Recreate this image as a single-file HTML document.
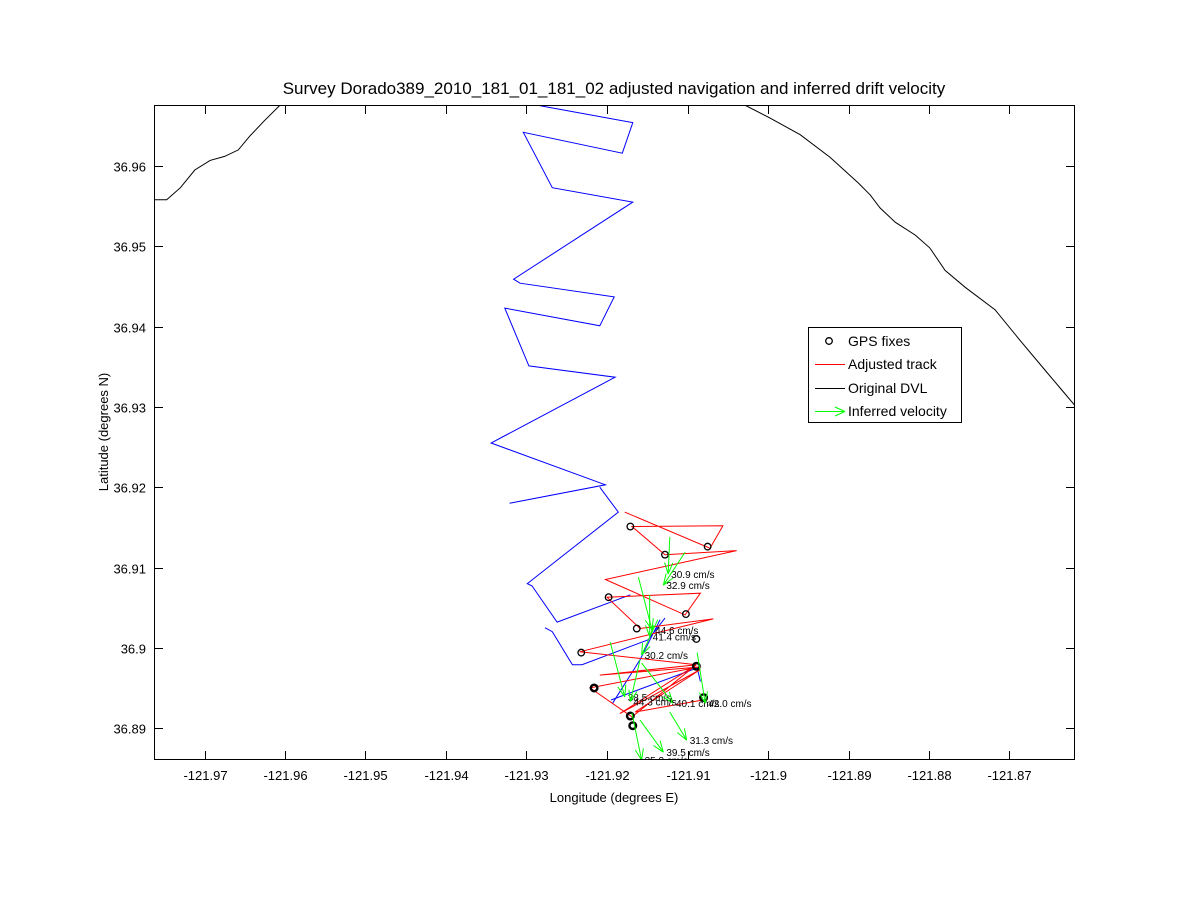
<!DOCTYPE html>
<html><head><meta charset="utf-8"><style>
body{margin:0;background:#fff;}
svg text{font-family:"Liberation Sans",sans-serif;}
</style></head><body>
<svg id="c" width="1188" height="900" xmlns="http://www.w3.org/2000/svg">
<defs><clipPath id="pc"><rect x="154" y="105" width="921" height="655"/></clipPath></defs>
<rect width="1188" height="900" fill="#fff"/>
<g id="plot" clip-path="url(#pc)"></g>
<g id="axes"></g>
</svg>
<script>
const xTicks=[-121.97,-121.96,-121.95,-121.94,-121.93,-121.92,-121.91,-121.9,-121.89,-121.88,-121.87];
const yTicks=[36.89,36.9,36.91,36.92,36.93,36.94,36.95,36.96];
const coastWLon=[-121.9763,-121.9747,-121.9730,-121.9712,-121.9693,-121.9675,-121.9658,-121.9644,-121.9625,-121.9606];
const coastWLat=[36.9558,36.9558,36.9573,36.9595,36.9607,36.9612,36.9620,36.9637,36.9657,36.9676];
const coastELon=[-121.9029,-121.8998,-121.8960,-121.8923,-121.8888,-121.8873,-121.8861,-121.8842,-121.8817,-121.8799,-121.8780,-121.8755,-121.8718,-121.8687,-121.8656,-121.8635,-121.8619];
const coastELat=[36.9676,36.9660,36.9639,36.9611,36.9579,36.9564,36.9548,36.9530,36.9514,36.9498,36.9470,36.9449,36.9421,36.9383,36.9346,36.9321,36.9302];
const dvlALon=[-121.9283,-121.9168,-121.9181,-121.9304,-121.9268,-121.9168,-121.9316,-121.9308,-121.9191,-121.9209,-121.9327,-121.9297,-121.9190,-121.9344,-121.9202,-121.9321];
const dvlALat=[36.9675,36.9654,36.9616,36.9642,36.9573,36.9555,36.9459,36.9454,36.9437,36.9401,36.9423,36.9351,36.9337,36.9255,36.9203,36.9180];
const dvlBLon=[-121.9209,-121.9186,-121.9299,-121.9293,-121.9262,-121.9171];
const dvlBLat=[36.9200,36.9169,36.9080,36.9077,36.9032,36.9066];
const dvlCLon=[-121.9277,-121.9268,-121.9243,-121.9231,-121.9149,-121.9128];
const dvlCLat=[36.9025,36.9020,36.8979,36.8979,36.9010,36.9037];
const dvlDLon=[-121.9193,-121.9159,-121.9134];
const dvlDLat=[36.8931,36.8985,36.9035];
const dvlELon=[-121.9195,-121.9088,-121.9084];
const dvlELat=[36.8935,36.8975,36.8958];
const adjLon=[-121.9178,-121.9072,-121.9056,-121.9169,-121.9128,-121.9039,-121.9202,-121.9103,-121.9084,-121.9200,-121.9159,-121.9068,-121.9234,-121.9089,-121.9209,-121.9087,-121.9221,-121.9169,-121.9089,-121.9184,-121.9084,-121.9165,-121.9081];
const adjLat=[36.9169,36.9124,36.9152,36.9151,36.9116,36.9121,36.9085,36.9041,36.9068,36.9063,36.9024,36.9036,36.8995,36.8979,36.8966,36.8976,36.8950,36.8914,36.8979,36.8918,36.8973,36.8920,36.8935];
const gpsLon=[-121.9171,-121.9128,-121.9075,-121.9198,-121.9102,-121.9163,-121.9089,-121.9232,-121.9089,-121.9216,-121.9080,-121.9171,-121.9168];
const gpsLat=[36.9151,36.9116,36.9126,36.9063,36.9042,36.9024,36.9011,36.8994,36.8977,36.8950,36.8938,36.8915,36.8903];
const gpsBold=[0,0,0,0,0,0,0,0,1,1,1,1,1];
const velLon0=[-121.9122,-121.9103,-121.9161,-121.9147,-121.9137,-121.9196,-121.9157,-121.9159,-121.9088,-121.9122,-121.9159,-121.9169];
const velLat0=[36.9138,36.9119,36.9088,36.9066,36.9035,36.9007,36.8981,36.8985,36.8994,36.8920,36.8910,36.8919];
const velLon1=[-121.9124,-121.9130,-121.9144,-121.9147,-121.9157,-121.9178,-121.9118,-121.9171,-121.9078,-121.9101,-121.9130,-121.9157];
const velLat1=[36.9092,36.9078,36.9022,36.9014,36.8991,36.8939,36.8931,36.8933,36.8931,36.8885,36.8870,36.8860];
const velSpeed=[30.9,32.9,44.6,41.4,30.2,38.5,40.1,44.3,42.0,31.3,39.5,35.3];

const NS="http://www.w3.org/2000/svg";
const X=v=>607+(v+121.92)*8050;
const Y=v=>166-(v-36.96)*8030;
const plot=document.getElementById('plot'), axes=document.getElementById('axes');
function mk(t,a,p){const e=document.createElementNS(NS,t);for(const k in a)e.setAttribute(k,a[k]);p.appendChild(e);return e;}
function line(lons,lats,col,name){
  const e=mk('polyline',{points:lons.map((v,i)=>X(v).toFixed(1)+','+Y(lats[i]).toFixed(1)).join(' '),fill:'none',stroke:col,'stroke-width':1},plot);
  
  
}
line(coastWLon,coastWLat,'#000','coastline-west');
line(coastELon,coastELat,'#000','coastline-east');
[[dvlALon,dvlALat],[dvlBLon,dvlBLat],[dvlCLon,dvlCLat],[dvlDLon,dvlDLat],[dvlELon,dvlELat]].forEach((d,i)=>line(d[0],d[1],'#00f','dvl-track-'+i));
line(adjLon,adjLat,'#f00','adjusted-track');
gpsLon.forEach((v,i)=>{
  const c=mk('circle',{cx:X(v),cy:Y(gpsLat[i]),r:3.3,fill:'none',stroke:'#000','stroke-width':gpsBold[i]?2.4:1.3},plot);
  
  
});
velSpeed.forEach((s,i)=>{
  const x0=X(velLon0[i]),y0=Y(velLat0[i]),x1=X(velLon1[i]),y1=Y(velLat1[i]);
  const g=mk('g',{},plot);
  
  
  mk('line',{x1:x0,y1:y0,x2:x1,y2:y1,stroke:'#0f0','stroke-width':1},g);
  const a=Math.atan2(y1-y0,x1-x0),L=12;
  [0.35,-0.35].forEach(d=>mk('line',{x1:x1,y1:y1,x2:x1-L*Math.cos(a+d),y2:y1-L*Math.sin(a+d),stroke:'#0f0','stroke-width':1},g));
  const t=mk('text',{x:x1+3,y:y1+4,'font-size':10,fill:'#000'},plot);
  t.textContent=s.toFixed(1)+' cm/s';
  
  
});
const box=mk('rect',{x:154.5,y:105.5,width:920,height:654,fill:'none',stroke:'#000','stroke-width':1},axes);


xTicks.forEach(v=>{
  const x=Math.round(X(v))+0.5;
  mk('line',{x1:x,y1:760,x2:x,y2:751,stroke:'#000'},axes);
  mk('line',{x1:x,y1:105,x2:x,y2:114,stroke:'#000'},axes);
  const t=mk('text',{x:x,y:780,'font-size':13,'text-anchor':'middle'},axes);
  t.textContent=String(v);
  
  
});
yTicks.forEach(v=>{
  const y=Math.round(Y(v))+0.5;
  mk('line',{x1:154,y1:y,x2:163,y2:y,stroke:'#000'},axes);
  mk('line',{x1:1075,y1:y,x2:1066,y2:y,stroke:'#000'},axes);
  const t=mk('text',{x:146,y:y+5,'font-size':13,'text-anchor':'end'},axes);
  t.textContent=v.toFixed(2).replace(/0$/,'');
  
  
});
</script>
<svg style="position:absolute;left:0;top:0" width="1188" height="900" xmlns="http://www.w3.org/2000/svg">
<text x="614" y="94" font-size="17" text-anchor="middle" font-family="Liberation Sans, sans-serif">Survey Dorado389_2010_181_01_181_02 adjusted navigation and inferred drift velocity</text>
<text x="614" y="802" font-size="13" text-anchor="middle" font-family="Liberation Sans, sans-serif">Longitude (degrees E)</text>
<text x="0" y="0" font-size="13" text-anchor="middle" font-family="Liberation Sans, sans-serif" transform="translate(108,432) rotate(-90)">Latitude (degrees N)</text>
<g font-family="Liberation Sans, sans-serif" font-size="14">
<rect x="808.5" y="327.5" width="153" height="95" fill="#fff" stroke="#000"/>
<g><circle cx="829" cy="341" r="3.3" fill="none" stroke="#000" stroke-width="1.3"/><text x="848" y="346">GPS fixes</text></g>
<g><line x1="815" y1="364.5" x2="845" y2="364.5" stroke="#f00"/><text x="848" y="369">Adjusted track</text></g>
<g><line x1="815" y1="388.5" x2="845" y2="388.5" stroke="#000"/><text x="848" y="393">Original DVL</text></g>
<g><line x1="815" y1="411.5" x2="845" y2="411.5" stroke="#0f0"/><line x1="845" y1="411.5" x2="835" y2="407" stroke="#0f0"/><line x1="845" y1="411.5" x2="835" y2="416" stroke="#0f0"/><text x="848" y="416">Inferred velocity</text></g>
</g>
</svg>
</body></html>
